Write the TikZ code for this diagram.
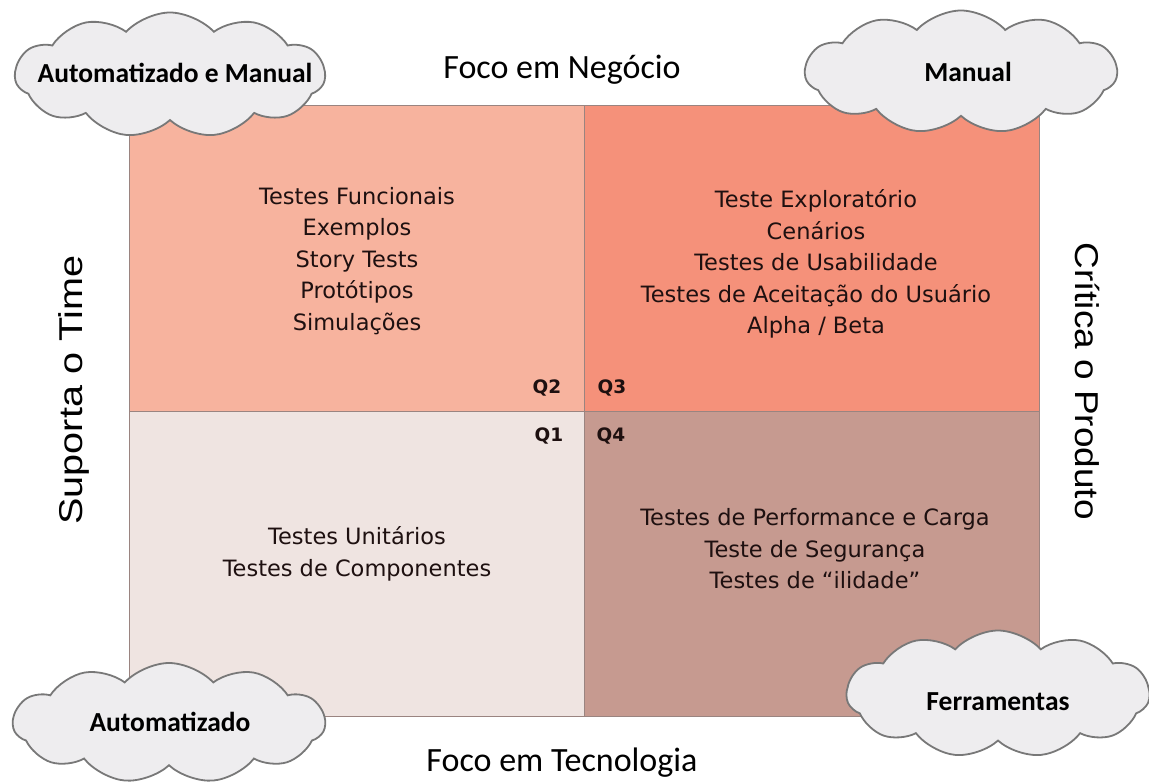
\documentclass[tikz,border=0pt]{standalone}
\usepackage{fontspec}
\usetikzlibrary{shapes.symbols}
\newfontfamily\calibfont{Carlito}
\newfontfamily\quadfont{DejaVu Sans}
\newfontfamily\arialfont{Liberation Sans}
\definecolor{qtwo}{HTML}{F7B39E}
\definecolor{qthree}{HTML}{F5917A}
\definecolor{qone}{HTML}{EFE4E1}
\definecolor{qfour}{HTML}{C69A90}
\definecolor{qline}{HTML}{9A8480}
\definecolor{cloudfill}{HTML}{EEEDEF}
\definecolor{cloudline}{HTML}{787878}
\definecolor{qtext}{HTML}{1E1010}
\tikzset{
  quad/.style={draw=qline, line width=0.9pt, inner sep=0pt, anchor=north west},
  qtxt/.style={font=\quadfont\fontsize{22.5}{31.5}\selectfont, text=qtext, align=center, inner sep=0pt},
  qlab/.style={font=\quadfont\bfseries\fontsize{18.5}{22}\selectfont, text=qtext, inner sep=0pt},
  cloudbox/.style={cloud, cloud puffs=11, cloud puff arc=95, cloud ignores aspect, draw=cloudline, line width=1.8pt, fill=cloudfill, inner sep=0pt},
  cloudtxt/.style={font=\calibfont\bfseries\fontsize{27.5}{30}\selectfont, text=black, inner sep=0pt},
  axis/.style={font=\calibfont\fontsize{34}{38}\selectfont, text=black, inner sep=0pt},
  sidetxt/.style={font=\arialfont\fontsize{33}{36}\selectfont, text=black, inner sep=0pt}
}
\begin{document}
\begin{tikzpicture}[x=1pt, y=-1pt]
\useasboundingbox (0,0) rectangle (1149,783);
% quadrants
\node[quad, fill=qtwo, minimum width=455pt, minimum height=306pt] (q2) at (129,105) {};
\node[quad, fill=qthree, minimum width=455pt, minimum height=306pt] (q3) at (584,105) {};
\node[quad, fill=qone, minimum width=455pt, minimum height=305pt] (q1) at (129,411) {};
\node[quad, fill=qfour, minimum width=455pt, minimum height=305pt] (q4) at (584,411) {};
% quadrant texts
\node[qtxt] (t2) at (357,261) {Testes Funcionais\\Exemplos\\Story Tests\\Protótipos\\Simulações};
\node[qtxt] (t3) at (816,264) {Teste Exploratório\\Cenários\\Testes de Usabilidade\\Testes de Aceitação do Usuário\\Alpha / Beta};
\node[qtxt] (t1) at (357,554) {Testes Unitários\\Testes de Componentes};
\node[qtxt] (t4) at (815,549) {Testes de Performance e Carga\\Teste de Segurança\\Testes de “ilidade”};
% quadrant labels
\node[qlab] (l2) at (547,388) {Q2};
\node[qlab] (l3) at (612,388) {Q3};
\node[qlab] (l1) at (549,436) {Q1};
\node[qlab] (l4) at (611,436) {Q4};
% axis labels
\node[axis] (top) at (562,70) {Foco em Negócio};
\node[axis] (bottom) at (562,763) {Foco em Tecnologia};
\node[sidetxt, rotate=90] (left) at (74,390) {\scalebox{1.2}[1]{Suporta o Time}};
\node[sidetxt, rotate=-90] (right) at (1087,381) {\scalebox{1.12}[1]{Crítica o Produto}};
% clouds
\node[cloudbox, minimum width=310pt, minimum height=125pt] (c1) at (170,75) {};
\node[cloudtxt] (c1t) at (175,73) {Automatizado e Manual};
\node[cloudbox, minimum width=312pt, minimum height=123pt] (c2) at (961,72) {};
\node[cloudtxt] (c2t) at (968,72) {Manual};
\node[cloudbox, minimum width=312pt, minimum height=120pt] (c3) at (169,723) {};
\node[cloudtxt] (c3t) at (170,722) {Automatizado};
\node[cloudbox, minimum width=303pt, minimum height=127pt] (c4) at (998,694) {};
\node[cloudtxt] (c4t) at (998,702) {Ferramentas};
\end{tikzpicture}
\end{document}
